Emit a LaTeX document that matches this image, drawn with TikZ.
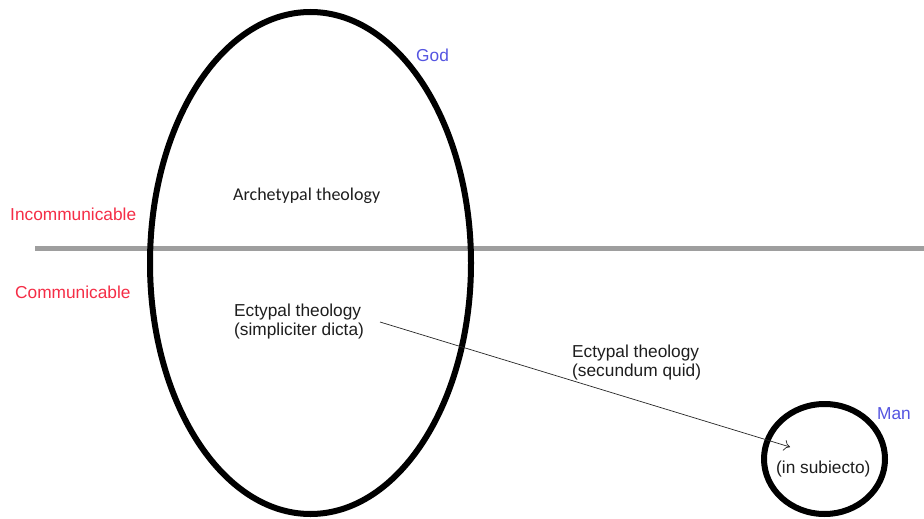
\documentclass[tikz,border=0pt]{standalone}
\usepackage{fontspec}
\setmainfont{Liberation Sans}
\newfontfamily\calfont{Carlito}
\usetikzlibrary{shapes.geometric,arrows.meta}
\definecolor{lblred}{RGB}{245,45,70}
\definecolor{lblblue}{RGB}{85,85,225}
\definecolor{txtgray}{RGB}{30,30,30}
\tikzset{
  bigshape/.style={draw=black,line width=6pt,ellipse,inner sep=0pt},
  lbl/.style={inner sep=0pt,anchor=base west,font=\fontsize{17.3}{19}\selectfont,text=txtgray},
  redlbl/.style={lbl,text=lblred},
  bluelbl/.style={lbl,text=lblblue},
  divider/.style={draw=black!38,line width=5pt},
  flow/.style={draw=black!85,line width=0.7pt,-{To[length=6pt,width=11pt]}}
}
\begin{document}
\begin{tikzpicture}[x=1pt,y=-1pt]
\useasboundingbox[fill=white] (0,0) rectangle (924,519);
% divider line
\coordinate (dl) at (35,248.5);
\coordinate (dr) at (924,248.5);
\draw[divider] (dl) -- (dr);
% God ellipse
\node[bigshape,minimum width=321pt,minimum height=502pt] (god) at (310.5,263) {};
% Man circle
\node[bigshape,minimum width=121pt,minimum height=110pt] (man) at (824.5,459) {};
% labels
\node[bluelbl] (godlbl) at (416,62) {God};
\node[bluelbl] (manlbl) at (877,419) {Man};
\node[redlbl] (incom) at (10,220.5) {Incommunicable};
\node[redlbl] (com) at (15,298) {Communicable};
\node[lbl,font=\calfont\fontsize{18}{20}\selectfont] (arch) at (233,200) {Archetypal theology};
\node[lbl,align=left] (ect1) at (234,335) {Ectypal theology\\(simpliciter dicta)};
\node[lbl,align=left] (ect2) at (572,376) {Ectypal theology\\(secundum quid)};
\node[lbl] (insub) at (776,473) {(in subiecto)};
% arrow
\coordinate (as) at (380,322);
\coordinate (ae) at (790,447);
\draw[flow] (as) -- (ae);
\end{tikzpicture}
\end{document}
